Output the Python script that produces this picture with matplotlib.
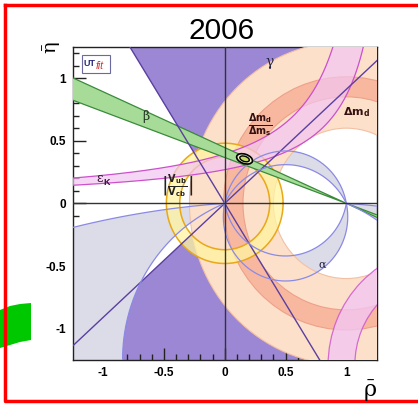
import numpy as np
import matplotlib.pyplot as plt
from matplotlib.patches import Polygon, Wedge, Ellipse, Rectangle
from matplotlib.lines import Line2D
from matplotlib.ticker import MultipleLocator, FuncFormatter

plt.rcParams['font.family'] = ['Liberation Sans', 'DejaVu Sans']
plt.rcParams['axes.unicode_minus'] = False
plt.rcParams['mathtext.fontset'] = 'dejavusans'

# ===================== constraints in the (rho, eta) plane =====================
gamma_edges = [42.3, 122.0]          # gamma wedge from the origin, degrees
beta_edges = [20.1, 24.0]            # sin2beta band through (1, 0), degrees
dmd_radii = [0.60, 1.29]             # Delta m_d ring around (1, 0)
dms_radii = [0.85, 1.01]             # Delta m_d / Delta m_s ring around (1, 0)
vub_radii = [0.37, 0.48]             # |Vub/Vcb| ring around (0, 0)
epsk_a = [1.302, 1.452]              # epsilon_K edges: eta = c / (a - rho)
epsk_c = [0.515, 0.390]
epsk2_center = (1.79, -1.29)         # lower epsilon_K lobe
epsk2_radii = [0.72, 0.94]
alpha_upper = [(-0.25, -0.09)]       # alpha: circles through (0,0),(1,0), centre (0.5, k)
alpha_lower = [(0.0876, -0.108), (-7.4, -1.243)]
apex = (0.163, 0.355)                # fit result
apex_size = (0.135, 0.075, -18)

PURPLE = '#9c87d4'
PEACH = '#fde0ca'
SALMON = '#f8b8a0'
GREY = '#dcdce8'
YELLOW = '#fff4a0'
PINK = '#f2c6f2'
GREEN = '#a6dc98'
GREEK = dict(family='DejaVu Serif', ha='center', va='center', zorder=11)


def circle_arc(k, upper, n=500):
    r = np.hypot(0.5, k)
    a0 = np.arctan2(-k, -0.5)
    a1 = np.arctan2(-k, 0.5)
    if upper:
        if a0 < a1:
            a0 += 2 * np.pi
        t = np.linspace(a1, a0, n)
    else:
        if a1 < a0:
            a1 += 2 * np.pi
        t = np.linspace(a0, a1, n)
    return np.column_stack([0.5 + r * np.cos(t), k + r * np.sin(t)])


def lune(k1, k2, upper):
    return np.vstack([circle_arc(k1, upper), circle_arc(k2, upper)[::-1]])


fig = plt.figure(figsize=(4.18, 4.04), dpi=100)
ax = fig.add_axes([0.174, 0.1089, 0.7273, 0.7755])
ax.set_xlim(-1.25, 1.25)
ax.set_ylim(-1.25, 1.25)

# gamma
for a in (0, 180):
    ax.add_patch(Wedge((0, 0), 4, gamma_edges[0] + a, gamma_edges[1] + a,
                       fc=PURPLE, ec='none', zorder=1))

# alpha
for k1, k2 in alpha_upper:
    ax.add_patch(Polygon(lune(k1, k2, True), fc=GREY, ec='none', zorder=2))
for k1, k2 in alpha_lower:
    ax.add_patch(Polygon(lune(k1, k2, False), fc=GREY, ec='none', zorder=2))

# Delta m_d, Delta m_d / Delta m_s
ax.add_patch(Wedge((1, 0), dmd_radii[1], 0, 360, width=dmd_radii[1] - dmd_radii[0],
                   fc=PEACH, ec='#f3c0a4', lw=0.8, zorder=3))
ax.add_patch(Wedge((1, 0), dms_radii[1], 0, 360, width=dms_radii[1] - dms_radii[0],
                   fc=SALMON, ec='#eea088', lw=0.8, zorder=4))

# |Vub/Vcb|
ax.add_patch(Wedge((0, 0), vub_radii[1], 0, 360, width=vub_radii[1] - vub_radii[0],
                   fc=YELLOW, ec='none', alpha=0.75, zorder=5))
for r in vub_radii:
    t = np.linspace(0, 2 * np.pi, 400)
    ax.plot(r * np.cos(t), r * np.sin(t), color='#e8a818', lw=1.1, zorder=5.5)

# epsilon_K
rho_hi = np.linspace(-1.4, epsk_a[0] - epsk_c[0] / 1.5, 300)
rho_lo = np.linspace(-1.4, epsk_a[1] - epsk_c[1] / 1.5, 300)
eta_hi = epsk_c[0] / (epsk_a[0] - rho_hi)
eta_lo = epsk_c[1] / (epsk_a[1] - rho_lo)
band = np.vstack([np.column_stack([rho_hi, eta_hi]), np.column_stack([rho_lo, eta_lo])[::-1]])
ax.add_patch(Polygon(band, fc=PINK, ec='none', alpha=0.7, zorder=6))
ax.plot(rho_hi, eta_hi, color='#cc50cc', lw=0.9, zorder=6.5)
ax.plot(rho_lo, eta_lo, color='#cc50cc', lw=0.9, zorder=6.5)
ax.add_patch(Wedge(epsk2_center, epsk2_radii[1], 0, 360, width=epsk2_radii[1] - epsk2_radii[0],
                   fc=PINK, ec='#cc50cc', lw=0.9, alpha=0.8, zorder=6))

# beta
pts = []
for b in beta_edges:
    s = np.tan(np.radians(b))
    pts.append([(1 - 3, 3 * s), (1 + 3, -3 * s)])
bow = [pts[0][0], (1, 0), pts[1][0]]
ax.add_patch(Polygon(bow, fc=GREEN, ec='#3a8a3a', lw=0.9, zorder=7))
bow = [pts[0][1], (1, 0), pts[1][1]]
ax.add_patch(Polygon(bow, fc=GREEN, ec='#3a8a3a', lw=0.9, zorder=7))

# boundary lines drawn over the fills
for g in gamma_edges:
    c, s = np.cos(np.radians(g)), np.sin(np.radians(g))
    ax.plot([-4 * c, 4 * c], [-4 * s, 4 * s], color='#5b3fa0', lw=1.0, zorder=8)
for k1, k2 in alpha_upper:
    for k in (k1, k2):
        xy = circle_arc(k, True)
        ax.plot(xy[:, 0], xy[:, 1], color='#8a8ae6', lw=0.9, zorder=8)
for k1, k2 in alpha_lower:
    for k in (k1, k2):
        xy = circle_arc(k, False)
        ax.plot(xy[:, 0], xy[:, 1], color='#8a8ae6', lw=0.9, zorder=8)

ax.axhline(0, color='#333333', lw=1.0, zorder=9)
ax.axvline(0, color='#333333', lw=1.0, zorder=9)

# fit result
ax.add_patch(Ellipse(apex, apex_size[0], apex_size[1], angle=apex_size[2],
                     fc='#eef2c8', ec='black', lw=1.2, zorder=10))
ax.add_patch(Ellipse(apex, apex_size[0] * 0.6, apex_size[1] * 0.55, angle=apex_size[2],
                     fc='#c8dc60', ec='black', lw=1.0, zorder=10))

# labels
ax.text(0.373, 1.127, 'γ', fontsize=10, color='#222244', **GREEK)
ax.text(-0.647, 0.697, 'β', fontsize=9, color='#223322', **GREEK)
ax.text(-1.03, 0.20, 'ε', fontsize=9, color='#331133', **GREEK)
ax.text(-0.975, 0.165, 'K', fontsize=6.5, fontweight='bold', color='#331133', ha='center', va='center', zorder=11)
ax.text(0.29, 0.625, r'$\frac{\mathbf{\Delta m_d}}{\mathbf{\Delta m_s}}$', fontsize=10,
        color='#331111', ha='center', va='center', zorder=11)
ax.text(1.088, 0.73, r'$\mathbf{\Delta m_d}$', fontsize=8, color='#331111', ha='center', va='center', zorder=11)
ax.text(0.80, -0.49, 'α', fontsize=8, color='#222244', **GREEK)
ax.text(-0.39, 0.14, r'$\left|\frac{\mathbf{V_{ub}}}{\mathbf{V_{cb}}}\right|$', fontsize=10,
        color='#222222', ha='center', va='center', zorder=11)

# logo
ax.add_patch(Rectangle((0.030, 0.917), 0.093, 0.057, transform=ax.transAxes,
                       fc='white', ec='#6a6aa0', lw=0.8, zorder=11))
ax.text(0.037, 0.947, 'UT', transform=ax.transAxes, fontsize=6.5, fontweight='bold',
        color='#2a2a7a', va='center', ha='left', zorder=12)
ax.text(0.074, 0.940, 'fit', transform=ax.transAxes, fontsize=7.5, style='italic',
        color='#d83030', va='center', ha='left', zorder=12)

# axes styling
ax.xaxis.set_major_locator(MultipleLocator(0.5))
ax.xaxis.set_minor_locator(MultipleLocator(0.1))
ax.yaxis.set_major_locator(MultipleLocator(0.5))
ax.yaxis.set_minor_locator(MultipleLocator(0.1))
fmt = FuncFormatter(lambda v, p: f'{v + 0:g}')
ax.xaxis.set_major_formatter(fmt)
ax.yaxis.set_major_formatter(fmt)
ax.tick_params(which='both', direction='in', top=False, right=False, color='#222222', width=1)
ax.tick_params(which='major', length=9, labelsize=8.5, pad=5)
ax.tick_params(which='minor', length=4.5)
for lab in ax.get_xticklabels() + ax.get_yticklabels():
    lab.set_fontweight('bold')
for sp in ax.spines.values():
    sp.set_linewidth(1.0)
    sp.set_color('#222222')

fig.text(0.531, 0.923, '2006', fontsize=21.5, ha='center', va='center')
fig.text(50 / 418, 1 - 47 / 404, 'η̄', fontsize=14, family='DejaVu Serif', rotation=90,
         ha='center', va='center')
fig.text(370 / 418, 1 - 390 / 404, 'ρ̄', fontsize=16, family='DejaVu Serif', ha='center', va='center')

# frame and the green shape at the lower left
fig.add_artist(Line2D([5 / 418, 5 / 418, 1.01], [1 - 5 / 404, 1 - 401 / 404, 1 - 401 / 404],
                      transform=fig.transFigure, color='red', lw=2.5))
fig.add_artist(Line2D([5 / 418, 1.01], [1 - 5 / 404, 1 - 5 / 404],
                      transform=fig.transFigure, color='red', lw=2.5))
blob_x = [0, 10, 20, 31, 31, 20, 10, 0]
blob_y = [310, 306, 304, 303, 340, 342, 345, 348]
fig.add_artist(Polygon([(x / 418, 1 - y / 404) for x, y in zip(blob_x, blob_y)],
                       closed=True, transform=fig.transFigure, fc='#00c800', ec='none'))

fig.savefig('out.png', dpi=100)
